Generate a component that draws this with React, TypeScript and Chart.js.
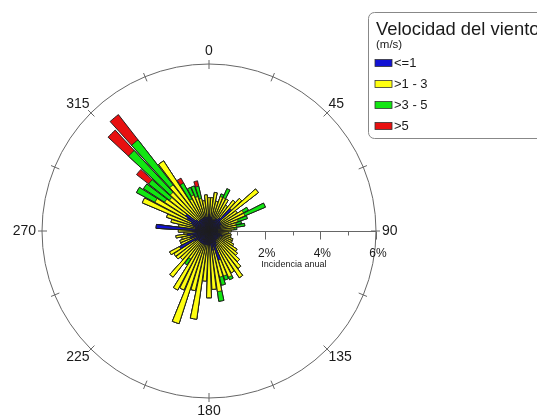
import React, { useEffect, useRef } from 'react';
import { Chart, registerables } from 'chart.js';

Chart.register(...registerables);

// Wind directions (degrees, clockwise from north)
const directions = [
  0, 5, 10, 15, 20, 25, 30, 35, 40, 45, 50, 55,
  60, 65, 70, 75, 80, 85, 90, 95, 100, 105, 110, 115,
  120, 125, 130, 135, 140, 145, 150, 155, 160, 165, 170, 175,
  180, 185, 190, 195, 200, 205, 210, 215, 220, 225, 230, 235,
  240, 245, 250, 255, 260, 265, 270, 275, 280, 285, 290, 295,
  300, 305, 310, 315, 320, 325, 330, 335, 340, 345, 350, 355,
];

// Annual incidence (%) per speed class
const blue = [
  0.6, 0.5, 0.5, 0.4, 0.4, 0.4, 0.5, 0.5, 0.6, 1.1, 0.5, 0.5,
  0.5, 0.4, 0.4, 0.4, 0.3, 0.3, 0.3, 0.3, 0.3, 0.4, 0.5, 0.4,
  0.4, 0.4, 0.4, 0.4, 0.4, 0.4, 0.5, 0.6, 1.1, 0.6, 0.7, 0.5,
  0.5, 0.5, 0.5, 0.5, 0.5, 0.5, 0.5, 0.5, 0.5, 0.5, 0.5, 0.6,
  1.2, 0.5, 0.7, 0.6, 0.8, 0.5, 0.6, 1.9, 0.5, 0.5, 0.6, 0.7,
  0.9, 1.0, 0.6, 0.5, 0.5, 0.5, 0.5, 0.5, 0.5, 0.5, 0.5, 0.5,
];
const yellow = [
  0.6, 0.7, 0.9, 0.7, 0.9, 0.9, 0.8, 0.6, 0.8, 0.5, 1.75, 0.7,
  0.9, 1.0, 0.7, 0.6, 0.7, 0.6, 0.5, 0.4, 0.5, 0.4, 0.4, 0.5,
  0.6, 0.8, 0.9, 1.1, 1.3, 1.6, 1.2, 1.2, 0.6, 1.1, 1.5, 1.6,
  1.9, 1.3, 2.7, 1.7, 3.0, 1.8, 1.9, 0.7, 1.6, 0.9, 1.0, 0.9,
  0.4, 0.6, 0.4, 0.4, 0.4, 0.4, 0.5, 0.0, 0.6, 0.9, 1.0, 1.9,
  1.3, 0.9, 1.2, 1.4, 1.6, 2.5, 0.8, 0.9, 0.8, 0.7, 0.6, 0.8,
];
const green = [
  0, 0, 0, 0, 0.1, 0.35, 0, 0, 0, 0, 0, 0,
  0.2, 0.8, 0.35, 0.2, 0.3, 0.1, 0, 0, 0, 0, 0, 0,
  0, 0, 0, 0, 0, 0, 0, 0.1, 0.15, 0.3, 0.35, 0,
  0, 0, 0, 0, 0, 0, 0, 0.25, 0, 0, 0, 0,
  0, 0, 0, 0, 0, 0, 0, 0, 0, 0, 0, 0,
  0.75, 0.9, 0.95, 2.05, 2.05, 0, 0.65, 0.3, 0.4, 0.45, 0, 0,
];
const red = [
  0, 0, 0, 0, 0, 0, 0, 0, 0, 0, 0, 0,
  0, 0, 0, 0, 0, 0, 0, 0, 0, 0, 0, 0,
  0, 0, 0, 0, 0, 0, 0, 0, 0, 0, 0, 0,
  0, 0, 0, 0, 0, 0, 0, 0, 0, 0, 0, 0,
  0, 0, 0, 0, 0, 0, 0, 0, 0, 0, 0, 0,
  0, 0, 0.55, 1.0, 1.15, 0, 0.2, 0, 0, 0.2, 0, 0,
];

const classLabels = ['<=1', '>1 - 3', '>3 - 5', '>5'];
const classColors = ['#1212d4', '#ffff10', '#12e612', '#e81010'];
const legendTitle = 'Velocidad del viento';
const legendUnit = '(m/s)';
const compassAngles = [0, 45, 90, 135, 180, 225, 270, 315];
const compassLabels = ['0', '45', '90', '135', '180', '225', '270', '315'];
const axisTickValues = [1, 2, 3, 4, 5, 6];
const axisLabelValues = [2, 4, 6];
const axisLabels = ['2%', '4%', '6%'];
const axisTitle = 'Incidencia anual';
const R_MAX = 6;

const FONT = '"Liberation Sans", Arial, Helvetica, sans-serif';
const BAR_W = 4.2;
const GAP_W = 5 - BAR_W;

function cumulative(parts: number[][]): number[] {
  return directions.map((_, i) => parts.reduce((s, p) => s + p[i], 0));
}

function interleave(values: number[]): number[] {
  const out: number[] = [];
  values.forEach((v) => {
    out.push(v, 0);
  });
  return out;
}

const decorPlugin = {
  id: 'roseDecor',
  beforeDatasetsDraw(chart: any) {
    const scale = chart.scales.r;
    const ctx = chart.ctx;
    const cx = scale.xCenter;
    const cy = scale.yCenter;
    const R = scale.getDistanceFromCenterForValue(R_MAX);
    ctx.save();
    ctx.strokeStyle = '#666';
    ctx.lineWidth = 1;
    ctx.beginPath();
    ctx.moveTo(cx, cy + 0.5);
    ctx.lineTo(cx + R, cy + 0.5);
    ctx.stroke();
    axisTickValues.forEach((v) => {
      const x = Math.round(cx + scale.getDistanceFromCenterForValue(v)) + 0.5;
      const len = v % 2 === 0 ? 8 : 4;
      ctx.beginPath();
      ctx.moveTo(x, cy + 0.5);
      ctx.lineTo(x, cy + 0.5 + len);
      ctx.stroke();
    });
    ctx.restore();
  },
  afterDraw(chart: any) {
    const scale = chart.scales.r;
    const ctx = chart.ctx;
    const cx = scale.xCenter;
    const cy = scale.yCenter;
    const R = scale.getDistanceFromCenterForValue(R_MAX);
    ctx.save();
    // ticks on outer circle
    ctx.strokeStyle = '#666';
    ctx.lineWidth = 1;
    for (let k = 0; k < 16; k++) {
      const a = (k * 22.5 * Math.PI) / 180;
      const s = Math.sin(a);
      const c = Math.cos(a);
      ctx.beginPath();
      ctx.moveTo(cx + (R - 5) * s, cy - (R - 5) * c);
      ctx.lineTo(cx + (R + 4) * s, cy - (R + 4) * c);
      ctx.stroke();
    }
    // compass labels
    ctx.fillStyle = '#1a1a1a';
    ctx.font = `14px ${FONT}`;
    compassAngles.forEach((deg, i) => {
      const a = (deg * Math.PI) / 180;
      const s = Math.sin(a);
      const c = Math.cos(a);
      const diag = deg % 90 !== 0;
      const d = R + (diag ? 2 : 6);
      const x = cx + d * s;
      const y = cy - d * c;
      ctx.textAlign = s > 0.1 ? 'left' : s < -0.1 ? 'right' : 'center';
      ctx.textBaseline = c > 0.1 ? 'bottom' : c < -0.1 ? 'top' : 'middle';
      ctx.fillText(compassLabels[i], x, y);
    });
    // axis labels
    ctx.font = `12px ${FONT}`;
    ctx.textAlign = 'center';
    ctx.textBaseline = 'middle';
    axisLabelValues.forEach((v, i) => {
      const x = cx + scale.getDistanceFromCenterForValue(v) + 2;
      ctx.fillText(axisLabels[i], x, cy + 23);
    });
    ctx.font = `9px ${FONT}`;
    ctx.fillText(axisTitle, cx + scale.getDistanceFromCenterForValue(3.05), cy + 34);

    // legend
    const lx = 368.5;
    const ly = 12.5;
    const lw = 220;
    const lh = 126;
    const rr = 6;
    ctx.beginPath();
    ctx.moveTo(lx + rr, ly);
    ctx.lineTo(lx + lw - rr, ly);
    ctx.arcTo(lx + lw, ly, lx + lw, ly + rr, rr);
    ctx.lineTo(lx + lw, ly + lh - rr);
    ctx.arcTo(lx + lw, ly + lh, lx + lw - rr, ly + lh, rr);
    ctx.lineTo(lx + rr, ly + lh);
    ctx.arcTo(lx, ly + lh, lx, ly + lh - rr, rr);
    ctx.lineTo(lx, ly + rr);
    ctx.arcTo(lx, ly, lx + rr, ly, rr);
    ctx.closePath();
    ctx.fillStyle = '#fff';
    ctx.fill();
    ctx.strokeStyle = '#888';
    ctx.stroke();

    ctx.fillStyle = '#1a1a1a';
    ctx.textAlign = 'left';
    ctx.textBaseline = 'alphabetic';
    ctx.font = `18.4px ${FONT}`;
    ctx.fillText(legendTitle, 376, 35);
    ctx.font = `11.5px ${FONT}`;
    ctx.fillText(legendUnit, 376, 48);
    ctx.font = `13px ${FONT}`;
    ctx.textBaseline = 'middle';
    classLabels.forEach((lab, i) => {
      const y = 63 + i * 21;
      ctx.fillStyle = classColors[i];
      ctx.fillRect(375, y - 3.5, 17, 7);
      ctx.strokeStyle = '#333';
      ctx.lineWidth = 0.8;
      ctx.strokeRect(375, y - 3.5, 17, 7);
      ctx.fillStyle = '#1a1a1a';
      ctx.fillText(lab, 394, y + 0.5);
    });
    ctx.restore();
  },
};

export default function App() {
  const canvasRef = useRef<HTMLCanvasElement | null>(null);

  useEffect(() => {
    const canvas = canvasRef.current;
    if (!canvas) return;
    const stacks = [
      cumulative([blue]),
      cumulative([blue, yellow]),
      cumulative([blue, yellow, green]),
      cumulative([blue, yellow, green, red]),
    ];
    const labels: string[] = [];
    directions.forEach((d) => labels.push(String(d), ''));
    const chart = new Chart(canvas, {
      type: 'polarArea',
      data: {
        labels,
        datasets: stacks.map((vals, k) => ({
          label: classLabels[k],
          data: interleave(vals),
          backgroundColor: classColors[k],
          borderColor: 'rgba(30,30,30,0.95)',
          borderWidth: (c: any) => (c.dataIndex % 2 === 0 ? 1 : 0),
          angle: (c: any) => (c.dataIndex % 2 === 0 ? BAR_W : GAP_W),
        })),
      } as any,
      options: {
        responsive: false,
        animation: false,
        layout: { padding: { left: 42, right: 161, top: 64, bottom: 21 } },
        plugins: { legend: { display: false }, tooltip: { enabled: false } },
        scales: {
          r: {
            min: 0,
            max: R_MAX,
            startAngle: -BAR_W / 2,
            ticks: { display: false, stepSize: 2 },
            grid: {
              color: (c: any) => (c.tick && c.tick.value === R_MAX ? '#666' : 'rgba(0,0,0,0)'),
              lineWidth: 1,
            },
            pointLabels: { display: false },
            angleLines: { display: false },
          },
        },
      } as any,
      plugins: [decorPlugin],
    });
    return () => chart.destroy();
  }, []);

  return (
    <div style={{ position: 'fixed', left: 0, top: 0, width: 537, height: 419, background: '#fff' }}>
      <canvas ref={canvasRef} width={537} height={419} style={{ display: 'block' }} />
    </div>
  );
}
